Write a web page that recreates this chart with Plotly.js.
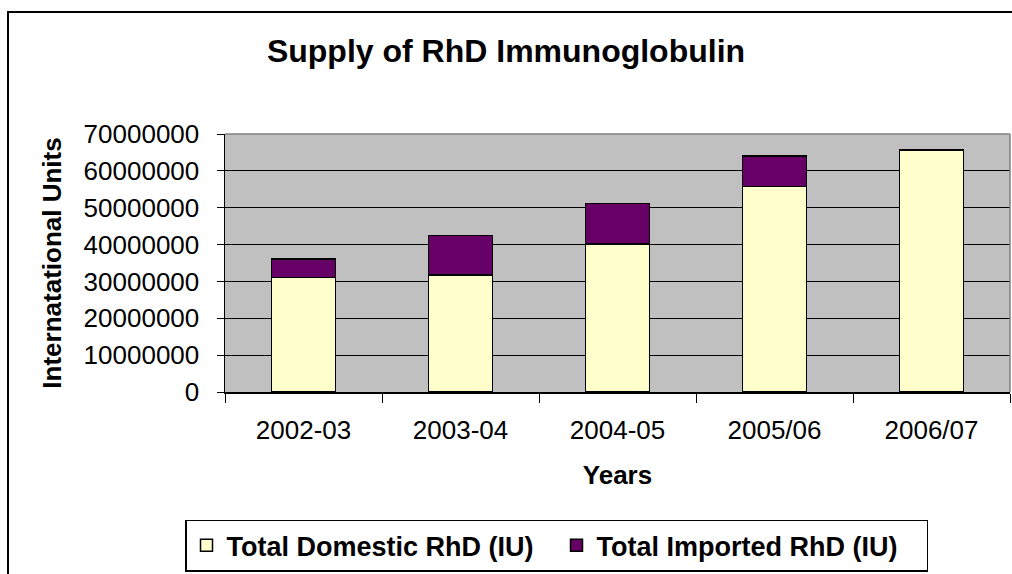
<!DOCTYPE html>
<html><head><meta charset="utf-8">
<script src="https://cdn.plot.ly/plotly-3.0.1.min.js"></script>
<style>
html,body{margin:0;padding:0;background:#fff;overflow:hidden;}
#wrap{position:relative;width:1012px;height:574px;overflow:hidden;}
#frame{position:absolute;left:7px;top:11px;width:1030px;height:600px;border:2px solid #000;box-sizing:border-box;pointer-events:none;}
#chart{position:absolute;left:0;top:0;width:1012px;height:574px;}
</style></head>
<body><div id="wrap"><div id="chart"></div><div id="frame"></div></div>
<script>
const years = ["2002-03","2003-04","2004-05","2005/06","2006/07"];
const domestic = [31100000,31800000,40200000,55800000,65700000];
const imported = [5000000,10700000,11000000,8300000,0];
const yTicks = [0,10000000,20000000,30000000,40000000,50000000,60000000,70000000];

const F = "Liberation Sans, Arial, sans-serif";
const traces = [
  {type:"bar", name:"Total Domestic RhD (IU)", x:years, y:domestic,
   marker:{color:"#FFFFCC", line:{color:"#000", width:1.5}}},
  {type:"bar", name:"Total Imported RhD (IU)", x:years, y:imported,
   marker:{color:"#660066", line:{color:"#000", width:1.5}}}
];
const layout = {
  width:1012, height:574, barmode:"stack", bargap:0.59,
  paper_bgcolor:"rgba(0,0,0,0)", plot_bgcolor:"#C0C0C0",
  margin:{l:225, r:2, t:134, b:180},
  font:{family:F, size:26, color:"#000"},
  title:{text:"<b>Supply of RhD Immunoglobulin</b>", x:0.5, xanchor:"center", y:0.912, yanchor:"middle", yref:"container",
         font:{family:F, size:32, color:"#000"}},
  xaxis:{type:"category", tickson:"boundaries", ticks:"outside", ticklen:9, tickcolor:"#000",
         showline:true, linecolor:"#000", linewidth:1.5, mirror:false,
         tickfont:{family:F, size:26}, ticklabelstandoff:14,
         title:{text:"<b>Years</b>", font:{family:F, size:26}, standoff:22}},
  yaxis:{range:[0,70000000], tickvals:yTicks, ticktext:yTicks.map(v=>String(v)),
         ticks:"outside", ticklen:7, tickcolor:"#000", showline:true, linecolor:"#000", linewidth:1.5,
         gridcolor:"#000", gridwidth:1, zeroline:false, tickfont:{family:F, size:26}, ticklabelstandoff:12,
         title:{text:"<b>Internatational Units</b>", font:{family:F, size:26}, standoff:14}},
  shapes:[{type:"line", xref:"paper", yref:"paper", x0:0, x1:1, y0:1, y1:1, line:{color:"#808080", width:1.5}},
          {type:"line", xref:"paper", yref:"paper", x0:1, x1:1, y0:0, y1:1, line:{color:"#808080", width:1.5}}],
  legend:{orientation:"h", x:0.4223, xanchor:"center", y:-0.596, yanchor:"middle",
          bordercolor:"#000", borderwidth:1.5, bgcolor:"#fff", entrywidth:325, entrywidthmode:"pixels",
          font:{family:F, size:27, weight:"bold"}, traceorder:"normal"},
  showlegend:true
};
Plotly.newPlot("chart", traces, layout, {displayModeBar:false, staticPlot:true});
</script></body></html>
